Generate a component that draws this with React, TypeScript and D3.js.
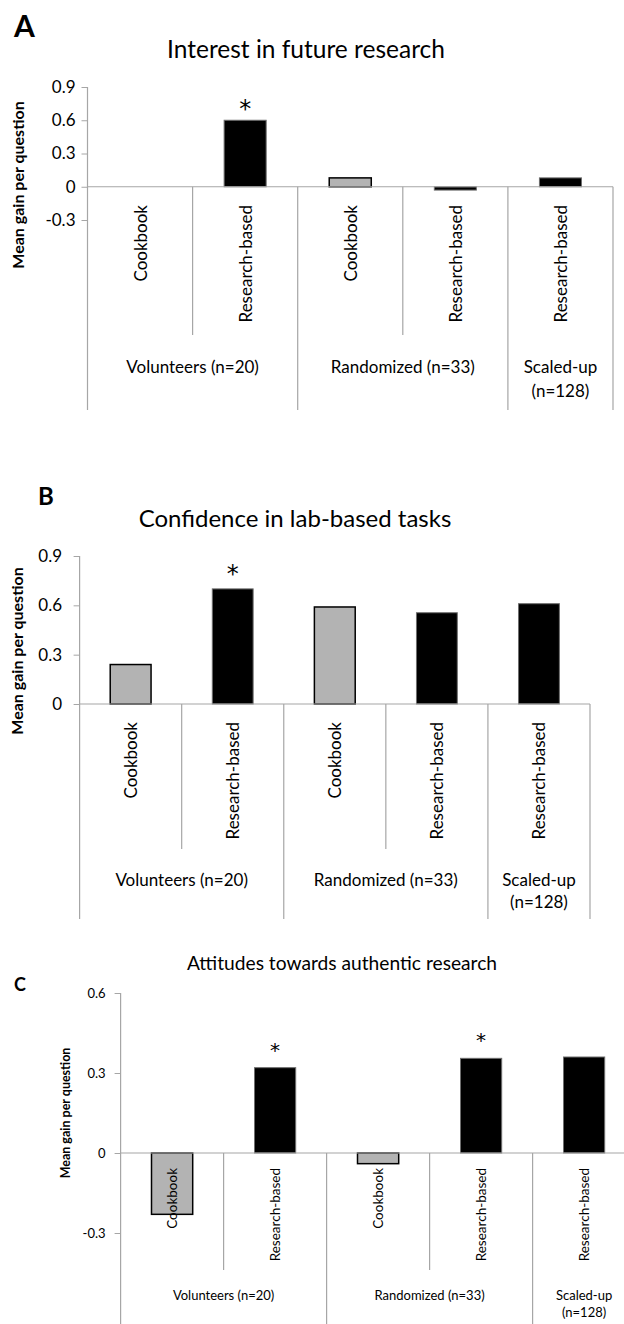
import React, { useEffect, useRef } from "react";
import * as d3 from "d3";

// categories along the x axis, grouped by study
const categories = ["Cookbook", "Research-based", "Cookbook", "Research-based", "Research-based"];
const groupLabels = ["Volunteers (n=20)", "Randomized (n=33)", "Scaled-up\n(n=128)"];
const groupSizes = [2, 2, 1];

// mean gain per question
const interestValues = [0, 0.6, 0.08, -0.03, 0.08];
const confidenceValues = [0.24, 0.7, 0.59, 0.555, 0.61];
const attitudeValues = [-0.23, 0.32, -0.04, 0.355, 0.36];

// significance markers
const interestStars = [false, true, false, false, false];
const confidenceStars = [false, true, false, false, false];
const attitudeStars = [false, true, false, true, false];

const interestTicks = [-0.3, 0, 0.3, 0.6, 0.9];
const confidenceTicks = [0, 0.3, 0.6, 0.9];
const attitudeTicks = [-0.3, 0, 0.3, 0.6];

const FONT = "Lato, 'Open Sans', sans-serif";
const STAR_FONT = "'DejaVu Sans', sans-serif";
const AXIS_GREY = "#a6a6a6";

const panels = [
  {
    letter: "A", letterX: 14, letterY: 37, letterSize: 30,
    title: "Interest in future research", titleX: 306, titleY: 58, titleSize: 24.5,
    values: interestValues, stars: interestStars, ticks: interestTicks,
    left: 87.5, right: 613, yBottom: 220, yTop: 87,
    catTop: 205, innerBottom: 335, outerBottom: 410,
    groupY: 373, groupLine: 24,
    yLabelX: 17, yLabelY: 185, yLabelSize: 16,
    tickSize: 17, tickPad: 6, catSize: 17, groupSize: 17, starSize: 24, starDy: 3,
  },
  {
    letter: "B", letterX: 38, letterY: 505, letterSize: 24,
    title: "Confidence in lab-based tasks", titleX: 295, titleY: 527, titleSize: 24,
    values: confidenceValues, stars: confidenceStars, ticks: confidenceTicks,
    left: 79.6, right: 590, yBottom: 704, yTop: 556,
    catTop: 722, innerBottom: 849, outerBottom: 919,
    groupY: 886, groupLine: 22,
    yLabelX: 16, yLabelY: 651, yLabelSize: 16,
    tickSize: 17, tickPad: 11.5, catSize: 17, groupSize: 17, starSize: 24, starDy: 7,
  },
  {
    letter: "C", letterX: 14, letterY: 991, letterSize: 18,
    title: "Attitudes towards authentic research", titleX: 342, titleY: 970, titleSize: 19.2,
    values: attitudeValues, stars: attitudeStars, ticks: attitudeTicks,
    left: 120.6, right: 635.6, yBottom: 1233, yTop: 993,
    catTop: 1168, innerBottom: 1270, outerBottom: 1330,
    groupY: 1300, groupLine: 17,
    yLabelX: 65, yLabelY: 1113, yLabelSize: 12.5,
    tickSize: 13, tickPad: 9, catSize: 13.5, groupSize: 13, starSize: 20, starDy: 11,
  },
];

function drawPanel(svg, p) {
  const x = d3.scaleBand().domain(d3.range(categories.length)).range([p.left, p.right]);
  const y = d3
    .scaleLinear()
    .domain(d3.extent(p.ticks))
    .range([p.yBottom, p.yTop]);
  const bw = x.bandwidth();
  const edge = (i) => (i < categories.length ? x(i) : p.right);

  const g = svg.append("g").style("font-family", FONT);

  g.append("text")
    .attr("x", p.letterX)
    .attr("y", p.letterY)
    .style("font-size", p.letterSize + "px")
    .style("font-weight", "bold")
    .text(p.letter);

  g.append("text")
    .attr("x", p.titleX)
    .attr("y", p.titleY)
    .attr("text-anchor", "middle")
    .style("font-size", p.titleSize + "px")
    .text(p.title);

  g.append("text")
    .attr("transform", `translate(${p.yLabelX},${p.yLabelY}) rotate(-90)`)
    .attr("text-anchor", "middle")
    .attr("dominant-baseline", "central")
    .style("font-size", p.yLabelSize + "px")
    .style("font-weight", "bold")
    .text("Mean gain per question");

  // y axis
  const axis = g
    .append("g")
    .attr("transform", `translate(${p.left},0)`)
    .call(
      d3
        .axisLeft(y)
        .tickValues(p.ticks)
        .tickSize(6)
        .tickSizeOuter(0)
        .tickPadding(p.tickPad)
        .tickFormat((d) => String(d))
    );
  axis.select(".domain").remove();
  axis.selectAll("line").attr("stroke", AXIS_GREY);
  axis
    .selectAll("text")
    .style("font-family", FONT)
    .style("font-size", p.tickSize + "px")
    .attr("fill", "#000");

  // bars
  g.selectAll("rect.bar")
    .data(p.values)
    .join("rect")
    .attr("class", "bar")
    .attr("x", (d, i) => x(i) + bw * 0.3)
    .attr("width", bw * 0.4)
    .attr("y", (d) => y(Math.max(0, d)))
    .attr("height", (d) => Math.abs(y(d) - y(0)))
    .attr("fill", (d, i) => (categories[i] === "Cookbook" ? "#b3b3b3" : "#000"))
    .attr("stroke", (d, i) => (categories[i] === "Cookbook" ? "#000" : "#6e6e6e"))
    .attr("stroke-width", (d, i) => (categories[i] === "Cookbook" ? 1.5 : 1));

  // zero line and axis line
  g.append("line")
    .attr("x1", p.left)
    .attr("x2", p.right)
    .attr("y1", y(0))
    .attr("y2", y(0))
    .attr("stroke", AXIS_GREY)
    .attr("stroke-width", 1.2);
  g.append("line")
    .attr("x1", p.left)
    .attr("x2", p.left)
    .attr("y1", y(d3.max(p.ticks)))
    .attr("y2", p.outerBottom)
    .attr("stroke", AXIS_GREY)
    .attr("stroke-width", 1.2);

  // category dividers
  const outer = [];
  const inner = [];
  let start = 0;
  groupSizes.forEach((n) => {
    for (let k = 1; k < n; k++) inner.push(start + k);
    start += n;
    outer.push(start);
  });
  g.selectAll("line.outer")
    .data(outer)
    .join("line")
    .attr("class", "outer")
    .attr("x1", edge)
    .attr("x2", edge)
    .attr("y1", y(0))
    .attr("y2", p.outerBottom)
    .attr("stroke", AXIS_GREY)
    .attr("stroke-width", 1.2);
  g.selectAll("line.inner")
    .data(inner)
    .join("line")
    .attr("class", "inner")
    .attr("x1", edge)
    .attr("x2", edge)
    .attr("y1", y(0))
    .attr("y2", p.innerBottom)
    .attr("stroke", AXIS_GREY)
    .attr("stroke-width", 1.2);

  // category labels
  g.selectAll("text.cat")
    .data(categories)
    .join("text")
    .attr("class", "cat")
    .attr("transform", (d, i) => `translate(${x(i) + bw / 2},${p.catTop}) rotate(-90)`)
    .attr("text-anchor", "end")
    .attr("dominant-baseline", "central")
    .style("font-size", p.catSize + "px")
    .text((d) => d);

  // group labels
  let s = 0;
  groupLabels.forEach((label, gi) => {
    const cx = (edge(s) + edge(s + groupSizes[gi])) / 2;
    s += groupSizes[gi];
    label.split("\n").forEach((line, li) => {
      g.append("text")
        .attr("x", cx)
        .attr("y", p.groupY + li * p.groupLine)
        .attr("text-anchor", "middle")
        .style("font-size", p.groupSize + "px")
        .text(line);
    });
  });

  // stars
  g.selectAll("text.star")
    .data(p.values.map((v, i) => ({ v, i })).filter((d) => p.stars[d.i]))
    .join("text")
    .attr("class", "star")
    .attr("x", (d) => x(d.i) + bw / 2)
    .attr("y", (d) => y(d.v) - p.starDy)
    .attr("text-anchor", "middle")
    .style("font-family", STAR_FONT)
    .style("font-size", p.starSize + "px")
    .text("*");
}

const App = () => {
  const ref = useRef(null);

  useEffect(() => {
    document.body.style.margin = "0";
    const svg = d3.select(ref.current);
    svg.selectAll("*").remove();
    panels.forEach((p) => drawPanel(svg, p));
  }, []);

  return (
    <svg
      ref={ref}
      width={624}
      height={1324}
      style={{ display: "block", background: "#fff" }}
    />
  );
};

export default App;
